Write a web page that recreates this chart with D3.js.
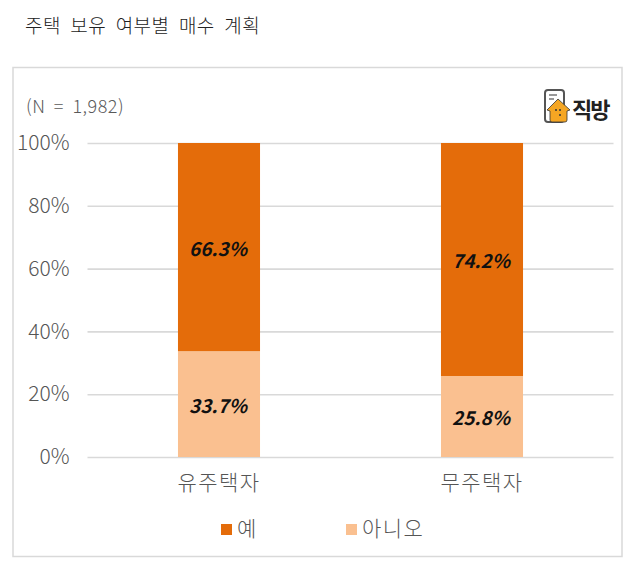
<!DOCTYPE html>
<html>
<head>
<meta charset="utf-8">
<script src="https://cdn.jsdelivr.net/npm/d3@7"></script>
<style>
  body { margin: 0; background: #fff; }
  svg { display: block; }
  text { font-family: "Noto Sans CJK KR", "Noto Sans", sans-serif; }
  .domain { display: none; }
  .tick line { stroke: #d9d9d9; stroke-width: 1.6; }
</style>
</head>
<body>
<div id="chart"></div>
<script>
const categories = ["유주택자", "무주택자"];
const seriesNames = ["아니오", "예"];
const noValues = [33.7, 25.8];
const yesValues = [66.3, 74.2];
const yTicks = [0, 20, 40, 60, 80, 100];
const colors = ["#fac090", "#e46c0a"];
const legendNames = ["예", "아니오"];
const legendColors = ["#e46c0a", "#fac090"];

let width = 630, height = 564;
let plot = {left: 87.5, right: 613.5, top: 143, bottom: 457};

let svg = d3.select("#chart").append("svg")
    .attr("width", width)
    .attr("height", height);

// Frame
svg.append("rect")
    .attr("x", 13)
    .attr("y", 67.5)
    .attr("width", 609)
    .attr("height", 489)
    .attr("fill", "#fff")
    .attr("stroke", "#d9d9d9")
    .attr("stroke-width", 1.5);

svg.append("text")
    .attr("x", 25)
    .attr("y", 33)
    .attr("font-size", 19)
    .attr("font-weight", 300)
    .attr("fill", "#222")
    .attr("word-spacing", 5)
    .attr("letter-spacing", 0.4)
    .text("주택 보유 여부별 매수 계획");

svg.append("text")
    .attr("x", 26)
    .attr("y", 113)
    .attr("font-size", 18)
    .attr("font-weight", 300)
    .attr("fill", "#595959")
    .attr("word-spacing", 4)
    .attr("letter-spacing", 0.5)
    .text("(N = 1,982)");

// Scales
let x = d3.scaleBand().domain(categories).range([plot.left, plot.right]).paddingInner(0.688).paddingOuter(0.344);
let y = d3.scaleLinear().domain([0, 100]).range([plot.bottom, plot.top]);

// Y axis with gridlines
let yAxis = svg.append("g")
    .attr("transform", "translate(" + plot.left + ",0)")
    .call(d3.axisLeft(y).tickValues(yTicks).tickFormat(d => d + "%").tickSize(-(plot.right - plot.left)).tickPadding(18));
yAxis.selectAll("text")
    .attr("font-size", 21)
    .attr("font-weight", 300)
    .attr("fill", "#555");

// X axis
let xAxis = svg.append("g")
    .attr("transform", "translate(0," + plot.bottom + ")")
    .call(d3.axisBottom(x).tickSize(0).tickPadding(18));
xAxis.selectAll("text")
    .attr("font-size", 21)
    .attr("font-weight", 300)
    .attr("fill", "#555")
    .attr("letter-spacing", 1.4);

// Stacked bars
let rows = categories.map((c, i) => ({category: c, "아니오": noValues[i], "예": yesValues[i]}));
let stacked = d3.stack().keys(seriesNames)(rows);

let layers = svg.append("g").selectAll("g")
  .data(stacked)
  .join("g")
    .attr("fill", (d, i) => colors[i]);

layers.selectAll("rect")
  .data(d => d)
  .join("rect")
    .attr("x", d => x(d.data.category))
    .attr("y", d => y(d[1]))
    .attr("width", x.bandwidth())
    .attr("height", d => y(d[0]) - y(d[1]));

layers.selectAll("text")
  .data(d => d)
  .join("text")
    .attr("x", d => x(d.data.category) + x.bandwidth() / 2 - 1)
    .attr("y", d => y((d[0] + d[1]) / 2) + 9)
    .attr("text-anchor", "middle")
    .attr("font-size", 19)
    .attr("font-weight", "bold")
    .attr("font-style", "italic")
    .attr("fill", "#111")
    .text(d => (d[1] - d[0]).toFixed(1) + "%");

// Legend
let legendX = d3.scalePoint().domain(legendNames).range([221, 346]);
let legend = svg.append("g").selectAll("g")
  .data(legendNames)
  .join("g")
    .attr("transform", d => "translate(" + legendX(d) + ",524)");
legend.append("rect")
    .attr("width", 11)
    .attr("height", 11)
    .attr("fill", (d, i) => legendColors[i]);
legend.append("text")
    .attr("x", 16)
    .attr("y", 12)
    .attr("font-size", 21)
    .attr("font-weight", 300)
    .attr("fill", "#555")
    .attr("letter-spacing", 1.4)
    .text(d => d);

// Logo
let logo = svg.append("g").attr("transform", "translate(545,90)");
logo.append("rect")
    .attr("width", 19)
    .attr("height", 32)
    .attr("rx", 3)
    .attr("fill", "#fff")
    .attr("stroke", "#555")
    .attr("stroke-width", 2);
logo.append("path")
    .attr("d", "M4 5H12M4 9H9")
    .attr("stroke", "#777")
    .attr("stroke-width", 1.5);
logo.append("path")
    .attr("d", "M2 20L13 9L25 20L22 21L22 30Q22 32 20 32L7 32Q5 32 5 30L5 21Z")
    .attr("fill", "#f5a623")
    .attr("stroke", "#333")
    .attr("stroke-width", 0.8);
logo.selectAll("circle")
  .data([[11, 20], [15, 20], [15, 25]])
  .join("circle")
    .attr("cx", d => d[0])
    .attr("cy", d => d[1])
    .attr("r", 1)
    .attr("fill", "#333");
svg.append("text")
    .attr("x", 572)
    .attr("y", 118)
    .attr("font-size", 22)
    .attr("font-weight", "bold")
    .attr("letter-spacing", -2)
    .attr("fill", "#222")
    .text("직방");
</script>
</body>
</html>
